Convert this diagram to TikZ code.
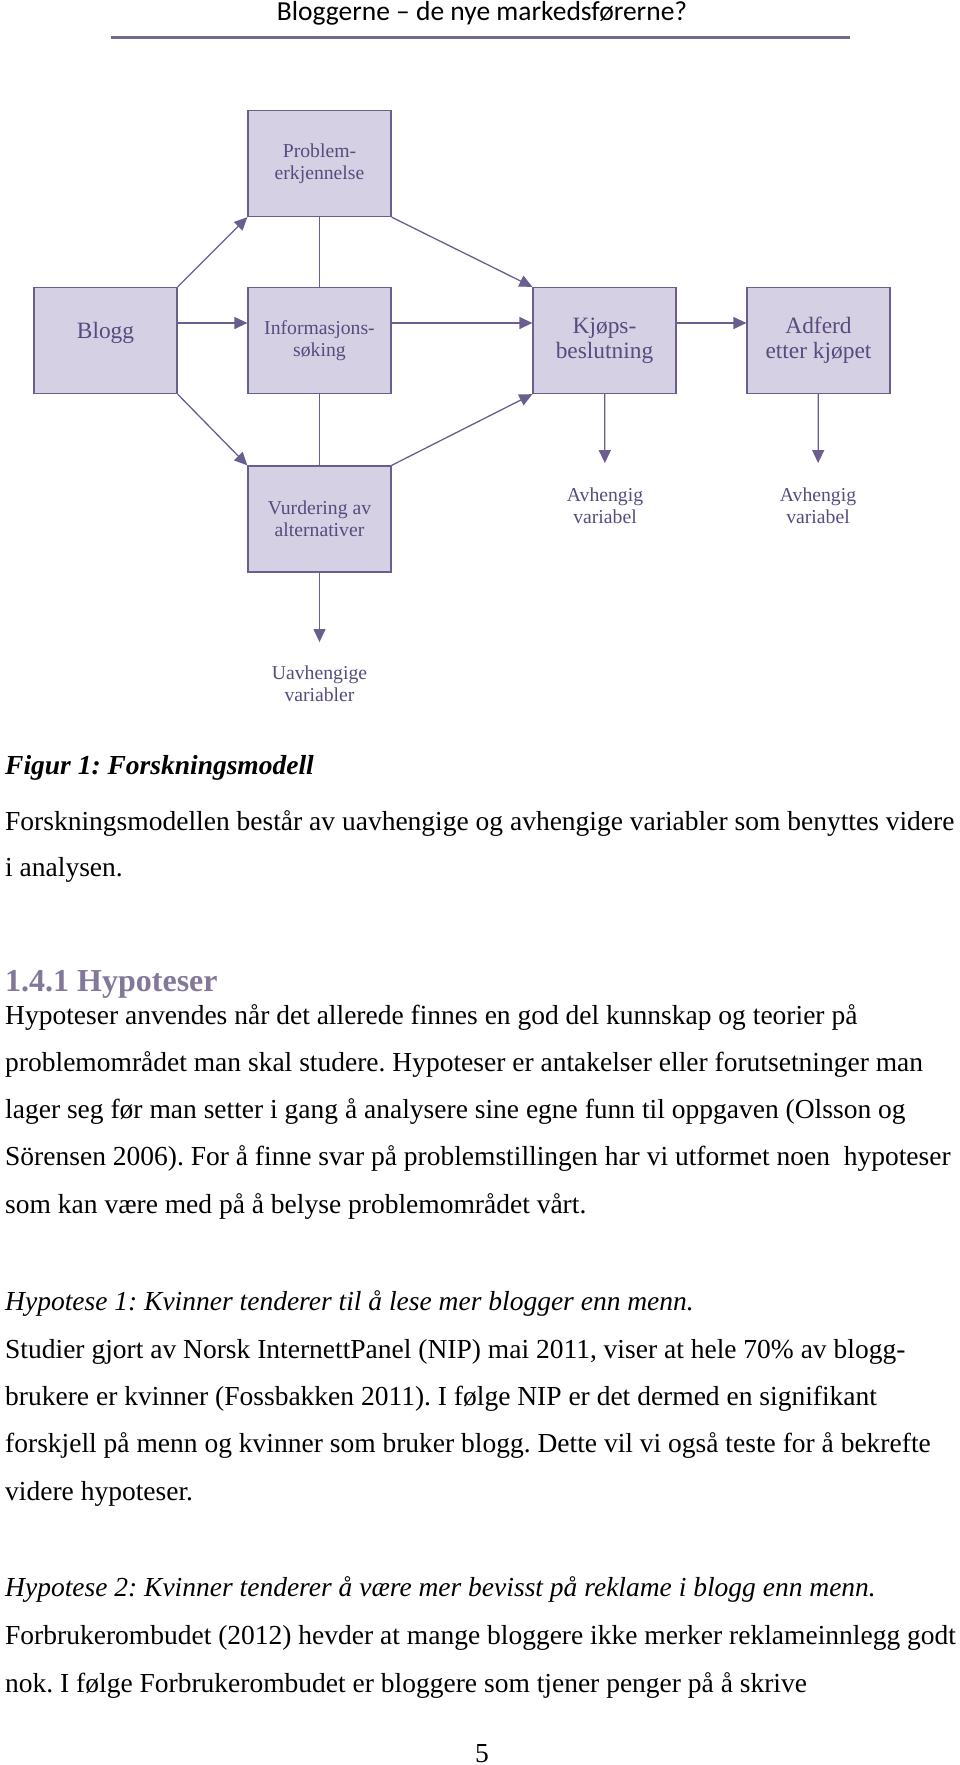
\documentclass[tikz,border=0pt]{standalone}
\usepackage{fontspec}
\setmainfont{Liberation Serif}
\newfontfamily\headfont{Carlito}
\usepackage{xcolor}
\usepackage{tikz}
\usetikzlibrary{positioning,arrows.meta}
\frenchspacing

\definecolor{boxfill}{HTML}{D6D0E4}
\definecolor{boxline}{HTML}{6A5E8E}
\definecolor{boxtext}{HTML}{584B7E}
\definecolor{rulecol}{HTML}{76688F}
\definecolor{headgray}{HTML}{84789A}

\begin{document}
\begin{tikzpicture}[x=1pt,y=-1pt,->,>={Triangle[length=13pt,width=12pt]}]
  \tikzstyle{stage}=[draw=boxline,fill=boxfill,line width=1.3pt,minimum width=143pt,minimum height=106pt,align=center,text=boxtext,inner sep=0pt]
  \tikzstyle{small}=[font=\fontsize{19.7}{22}\selectfont]
  \tikzstyle{big}=[font=\fontsize{23.4}{25}\selectfont]
  \tikzstyle{conn}=[draw=boxline,line width=1.3pt]
  \tikzstyle{varlabel}=[align=center,text=boxtext,font=\fontsize{19.7}{22}\selectfont,inner sep=0pt,outer ysep=25pt]
  \tikzstyle{bodyline}=[anchor=base west,inner sep=0pt,font=\fontsize{27.5}{33}\selectfont]

  \useasboundingbox (0,0) rectangle (960,1765);

  % header
  \node[anchor=base,inner sep=0pt,font=\headfont\fontsize{27.5}{33}\selectfont] (head) at (482,20) {Bloggerne – de nye markedsførerne?};
  \draw[-,rulecol,line width=3pt] (111,37) -- (850,37);

  % stages
  \node[stage,small] (prob) at (319.5,163.5) {Problem-\\erkjennelse};
  \node[stage,big] (blogg) at (105.5,340.5) {\raisebox{20pt}{Blogg}};
  \node[stage,small] (info) at (319.5,340.5) {Informasjons-\\søking};
  \node[stage,big] (kjops) at (604.5,340.5) {Kjøps-\\beslutning};
  \node[stage,big] (adferd) at (818.5,340.5) {Adferd\\etter kjøpet};
  \node[stage,small] (vurd) at (319.5,519) {Vurdering av\\alternativer};

  \node[varlabel] (avh1) at (605,506) {Avhengig\\variabel};
  \node[varlabel] (avh2) at (818,506) {Avhengig\\variabel};
  \node[varlabel,outer ysep=24pt] (uavh) at (319.5,684) {Uavhengige\\variabler};

  % connectors
  \draw[conn] (blogg.north east) -- (prob.south west);
  \draw[conn] ([yshift=17.5pt]blogg.east) -- ([yshift=17.5pt]info.west);
  \draw[conn] (blogg.south east) -- (vurd.north west);
  \draw[conn,-] (prob) -- (info);
  \draw[conn,-] (info) -- (vurd);
  \draw[conn] (prob.south east) -- (kjops.north west);
  \draw[conn] ([yshift=17.5pt]info.east) -- ([yshift=17.5pt]kjops.west);
  \draw[conn] (vurd.north east) -- (kjops.south west);
  \draw[conn] ([yshift=17.5pt]kjops.east) -- ([yshift=17.5pt]adferd.west);
  \draw[conn] (kjops) -- (avh1);
  \draw[conn] (adferd) -- (avh2);
  \draw[conn] (vurd) -- (uavh);

  % text
  \node[bodyline] (cap) at (5,774) {\textbf{\textit{Figur 1: Forskningsmodell}}};
  \node[bodyline] (p1a) at (5,830) {Forskningsmodellen består av uavhengige og avhengige variabler som benyttes videre};
  \node[bodyline] (p1b) at (5,876) {i analysen.};

  \node[bodyline,font=\bfseries\fontsize{32}{38}\selectfont,text=headgray] (sec) at (5,991) {1.4.1 Hypoteser};
  \node[bodyline] (p2a) at (5,1024) {Hypoteser anvendes når det allerede finnes en god del kunnskap og teorier på};
  \node[bodyline] (p2b) at (5,1071) {problemområdet man skal studere. Hypoteser er antakelser eller forutsetninger man};
  \node[bodyline] (p2c) at (5,1118) {lager seg før man setter i gang å analysere sine egne funn til oppgaven (Olsson og};
  \node[bodyline] (p2d) at (5,1165) {Sörensen 2006). For å finne svar på problemstillingen har vi utformet noen\ \ hypoteser};
  \node[bodyline] (p2e) at (5,1213) {som kan være med på å belyse problemområdet vårt.};

  \node[bodyline] (hyp1) at (5,1310) {\textit{Hypotese 1: Kvinner tenderer til å lese mer blogger enn menn.}};
  \node[bodyline] (p3a) at (5,1358) {Studier gjort av Norsk InternettPanel (NIP) mai 2011, viser at hele 70\% av blogg-};
  \node[bodyline] (p3b) at (5,1405) {brukere er kvinner (Fossbakken 2011). I følge NIP er det dermed en signifikant};
  \node[bodyline] (p3c) at (5,1452) {forskjell på menn og kvinner som bruker blogg. Dette vil vi også teste for å bekrefte};
  \node[bodyline] (p3d) at (5,1500) {videre hypoteser.};

  \node[bodyline] (hyp2) at (5,1596) {\textit{Hypotese 2: Kvinner tenderer å være mer bevisst på reklame i blogg enn menn.}};
  \node[bodyline] (p4a) at (5,1644) {Forbrukerombudet (2012) hevder at mange bloggere ikke merker reklameinnlegg godt};
  \node[bodyline] (p4b) at (5,1692) {nok. I følge Forbrukerombudet er bloggere som tjener penger på å skrive};

  \node[anchor=base,inner sep=0pt,font=\fontsize{27.5}{33}\selectfont] (pnum) at (482,1762) {5};
\end{tikzpicture}
\end{document}
